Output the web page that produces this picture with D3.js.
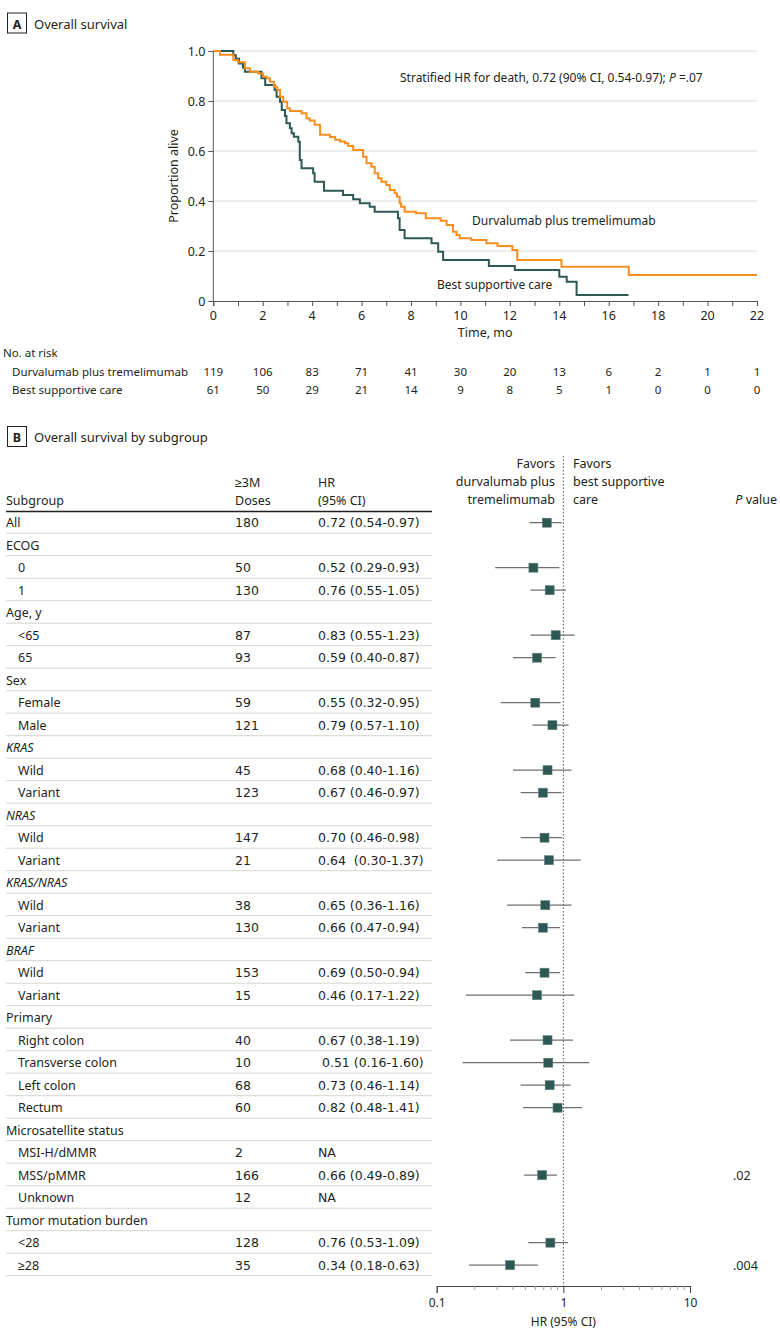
<!DOCTYPE html>
<html>
<head>
<meta charset="utf-8">
<script src="https://cdn.jsdelivr.net/npm/d3@7"></script>
<style>
  body { margin: 0; background: #fff; }
  svg { display: block; font-family: "Noto Sans", sans-serif; fill: #231f20; }
  .num { font-family: "DejaVu Sans", sans-serif; }
</style>
</head>
<body>
<svg width="780" height="1340"></svg>
<script>
// ---- Panel A: Kaplan-Meier data ----
const durvaT = [0, 0.27, 0.81, 1.0, 1.28, 1.48, 1.82, 2.02, 2.16, 2.29, 2.45, 2.59, 2.7, 2.83, 2.99, 3.1,
  3.57, 3.77, 3.9, 4.1, 4.32, 4.72, 4.93, 5.13, 5.33, 5.46, 5.66, 6.06, 6.2, 6.4, 6.53, 6.67, 6.8, 7.0,
  7.14, 7.34, 7.43, 7.54, 7.6, 7.74, 8.2, 8.6, 9.2, 9.44, 9.7, 9.84, 9.97, 10.44, 11.05, 11.5, 12.1,
  12.3, 14.09, 16.81, 22];
const durvaS = [1.0, 0.985, 0.964, 0.955, 0.931, 0.917, 0.91, 0.897, 0.891, 0.877, 0.857, 0.844, 0.817,
  0.797, 0.771, 0.76, 0.751, 0.731, 0.722, 0.705, 0.665, 0.656, 0.645, 0.638, 0.631, 0.62, 0.604, 0.577,
  0.551, 0.537, 0.511, 0.491, 0.477, 0.464, 0.444, 0.431, 0.417, 0.391, 0.377, 0.357, 0.351, 0.331,
  0.321, 0.304, 0.277, 0.264, 0.251, 0.244, 0.231, 0.22, 0.204, 0.164, 0.137, 0.104, 0.104];

const bscT = [0, 0.81, 0.91, 1.04, 1.2, 1.28, 1.95, 2.1, 2.48, 2.56, 2.7, 2.77, 2.9, 2.96, 3.1, 3.17,
  3.26, 3.44, 3.5, 3.57, 4.04, 4.1, 4.48, 5.25, 5.66, 5.93, 6.33, 6.53, 7.47, 7.54, 7.74, 8.83, 9.1,
  9.3, 11.15, 12.2, 14.0, 14.3, 14.7, 16.8];
const bscS = [1.0, 0.983, 0.969, 0.95, 0.933, 0.917, 0.891, 0.864, 0.844, 0.817, 0.797, 0.764, 0.74,
  0.711, 0.691, 0.671, 0.657, 0.637, 0.564, 0.531, 0.511, 0.477, 0.441, 0.424, 0.407, 0.391, 0.377,
  0.357, 0.331, 0.284, 0.251, 0.231, 0.197, 0.164, 0.14, 0.124, 0.097, 0.077, 0.024, 0.024];

const riskTimes = [0, 2, 4, 6, 8, 10, 12, 14, 16, 18, 20, 22];
const riskDurva = [119, 106, 83, 71, 41, 30, 20, 13, 6, 2, 1, 1];
const riskBsc = [61, 50, 29, 21, 14, 9, 8, 5, 1, 0, 0, 0];
const yTicks = [0, 0.2, 0.4, 0.6, 0.8, 1.0];

// ---- Panel B: subgroup forest data ----
const rowLabels = ["All", "ECOG", "0", "1", "Age, y", "<65", "65", "Sex", "Female", "Male",
  "KRAS", "Wild", "Variant", "NRAS", "Wild", "Variant", "KRAS/NRAS", "Wild", "Variant",
  "BRAF", "Wild", "Variant", "Primary", "Right colon", "Transverse colon", "Left colon", "Rectum",
  "Microsatellite status", "MSI-H/dMMR", "MSS/pMMR", "Unknown", "Tumor mutation burden", "<28", "≥28"];
const rowKind = ["all", "head", "sub", "sub", "head", "sub", "sub", "head", "sub", "sub",
  "gene", "sub", "sub", "gene", "sub", "sub", "gene", "sub", "sub",
  "gene", "sub", "sub", "head", "sub", "sub", "sub", "sub",
  "head", "sub", "sub", "sub", "head", "sub", "sub"];
const doses = [180, null, 50, 130, null, 87, 93, null, 59, 121, null, 45, 123, null, 147, 21,
  null, 38, 130, null, 153, 15, null, 40, 10, 68, 60, null, 2, 166, 12, null, 128, 35];
const hrText = ["0.72 (0.54-0.97)", "", "0.52 (0.29-0.93)", "0.76 (0.55-1.05)", "", "0.83 (0.55-1.23)",
  "0.59 (0.40-0.87)", "", "0.55 (0.32-0.95)", "0.79 (0.57-1.10)", "", "0.68 (0.40-1.16)",
  "0.67 (0.46-0.97)", "", "0.70 (0.46-0.98)", "0.64  (0.30-1.37)", "", "0.65 (0.36-1.16)",
  "0.66 (0.47-0.94)", "", "0.69 (0.50-0.94)", "0.46 (0.17-1.22)", "", "0.67 (0.38-1.19)",
  " 0.51 (0.16-1.60)", "0.73 (0.46-1.14)", "0.82 (0.48-1.41)", "", "NA", "0.66 (0.49-0.89)", "NA",
  "", "0.76 (0.53-1.09)", "0.34 (0.18-0.63)"];
// plotted point estimates and CI limits as drawn
const hrPoint = [0.74, null, 0.58, 0.78, null, 0.87, 0.62, null, 0.60, 0.82, null, 0.75, 0.69, null,
  0.71, 0.77, null, 0.72, 0.69, null, 0.71, 0.62, null, 0.75, 0.76, 0.78, 0.90, null, null, 0.68,
  null, null, 0.79, 0.38];
const ciLo = [0.54, null, 0.29, 0.55, null, 0.55, 0.40, null, 0.32, 0.57, null, 0.40, 0.46, null,
  0.46, 0.30, null, 0.36, 0.47, null, 0.50, 0.17, null, 0.38, 0.16, 0.46, 0.48, null, null, 0.49,
  null, null, 0.53, 0.18];
const ciHi = [0.97, null, 0.93, 1.05, null, 1.23, 0.87, null, 0.95, 1.10, null, 1.16, 0.97, null,
  0.98, 1.37, null, 1.16, 0.94, null, 0.94, 1.22, null, 1.19, 1.60, 1.14, 1.41, null, null, 0.89,
  null, null, 1.09, 0.63];
const pVals = {29: ".02", 33: ".004"};
const hrTicks = [0.1, 1, 10];

const orange = "#f98e1d", teal = "#2d5854";
const svg = d3.select("svg");

// panel tag helper
function panelTag(y, letter, title) {
  svg.append("rect").attr("x", 7.5).attr("y", y - 15.5).attr("width", 19).attr("height", 20)
    .attr("fill", "none").attr("stroke", "#231f20").attr("stroke-width", 1);
  svg.append("text").attr("x", 17).attr("y", y).attr("text-anchor", "middle")
    .attr("font-size", 12.5).attr("font-weight", "bold").text(letter);
  svg.append("text").attr("x", 34).attr("y", y).attr("font-size", 13).text(title);
}

// ================= Panel A =================
panelTag(28.5, "A", "Overall survival");

const x = d3.scaleLinear().domain([0, 22]).range([213.3, 757]);
const y = d3.scaleLinear().domain([0, 1]).range([301, 51]);

// grid
svg.append("g").selectAll("line").data(yTicks.slice(1)).join("line")
  .attr("x1", x(0)).attr("x2", x(22)).attr("y1", d => y(d)).attr("y2", d => y(d))
  .attr("stroke", "#dcdcdc").attr("stroke-width", 1);

const gx = svg.append("g").attr("transform", `translate(0,${y(0)})`)
  .call(d3.axisBottom(x).tickValues(d3.range(0, 23)).tickSize(5).tickFormat(""));
gx.selectAll("line,path").attr("stroke", "#555");
gx.selectAll(".tick text").remove();
svg.append("g").selectAll("text").data(riskTimes).join("text")
  .attr("x", d => x(d)).attr("y", 320).attr("text-anchor", "middle").attr("font-size", 12.5)
  .text(d => d);

const gy = svg.append("g").attr("transform", `translate(${x(0)},0)`)
  .call(d3.axisLeft(y).tickValues(yTicks).tickSize(5).tickFormat(d => d === 0 ? "0" : d3.format(".1f")(d)));
gy.selectAll("line,path").attr("stroke", "#555");
gy.selectAll("text").attr("font-size", 12.5).attr("fill", "#231f20").attr("font-family", "Noto Sans, sans-serif");
gy.select(".domain").attr("d", `M0,${y(0)}V${y(1)}`);

svg.append("text").attr("transform", `translate(178,176) rotate(-90)`)
  .attr("text-anchor", "middle").attr("font-size", 12.5).text("Proportion alive");
svg.append("text").attr("x", x(11)).attr("y", 337).attr("text-anchor", "middle")
  .attr("font-size", 12.5).text("Time, mo");

const km = d3.line().x(d => x(d[0])).y(d => y(d[1])).curve(d3.curveStepAfter);
svg.append("path").datum(bscT.map((t, i) => [t, bscS[i]]))
  .attr("d", km).attr("fill", "none").attr("stroke", teal).attr("stroke-width", 2);
svg.append("path").datum(durvaT.map((t, i) => [t, durvaS[i]]))
  .attr("d", km).attr("fill", "none").attr("stroke", orange).attr("stroke-width", 2);

const hrNote = svg.append("text").attr("x", 400).attr("y", 82).attr("font-size", 12);
hrNote.append("tspan").text("Stratified HR for death, 0.72 (90% CI, 0.54-0.97); ");
hrNote.append("tspan").attr("font-style", "italic").text("P");
hrNote.append("tspan").text(" =.07");
svg.append("text").attr("x", 472).attr("y", 225).attr("font-size", 12).text("Durvalumab plus tremelimumab");
svg.append("text").attr("x", 437).attr("y", 289).attr("font-size", 12).text("Best supportive care");

// number at risk
svg.append("text").attr("x", 3).attr("y", 357).attr("font-size", 11.5).text("No. at risk");
svg.append("text").attr("x", 12).attr("y", 376).attr("font-size", 11.5).text("Durvalumab plus tremelimumab");
svg.append("text").attr("x", 12).attr("y", 394).attr("font-size", 11.5).text("Best supportive care");
svg.append("g").selectAll("text").data(riskDurva).join("text")
  .attr("x", (d, i) => x(riskTimes[i])).attr("y", 376).attr("text-anchor", "middle")
  .attr("font-size", 11.5).text(d => d);
svg.append("g").selectAll("text").data(riskBsc).join("text")
  .attr("x", (d, i) => x(riskTimes[i])).attr("y", 394).attr("text-anchor", "middle")
  .attr("font-size", 11.5).text(d => d);

// ================= Panel B =================
panelTag(442, "B", "Overall survival by subgroup");

const rowY = i => 522.7 + i * 22.5;
const hx = d3.scaleLog().domain([0.1, 10]).range([436.7, 690]);
const colDoses = 235, colHR = 318, tableRight = 432;

// headers
const hdr = svg.append("g").attr("font-size", 12.5);
hdr.append("text").attr("x", 6).attr("y", 505).text("Subgroup");
hdr.append("text").attr("x", colDoses).attr("y", 487).text("≥3M");
hdr.append("text").attr("x", colDoses).attr("y", 505).text("Doses");
hdr.append("text").attr("x", colHR).attr("y", 487).text("HR");
hdr.append("text").attr("x", colHR).attr("y", 505).text("(95% CI)");
["Favors", "durvalumab plus", "tremelimumab"].forEach((t, i) =>
  hdr.append("text").attr("x", 555).attr("y", 468 + i * 18).attr("text-anchor", "end").text(t));
["Favors", "best supportive", "care"].forEach((t, i) =>
  hdr.append("text").attr("x", 573).attr("y", 468 + i * 18).text(t));
const pv = hdr.append("text").attr("x", 777).attr("y", 504).attr("text-anchor", "end");
pv.append("tspan").attr("font-style", "italic").text("P");
pv.append("tspan").text(" value");

svg.append("line").attr("x1", 6).attr("x2", tableRight).attr("y1", 511.5).attr("y2", 511.5)
  .attr("stroke", "#231f20").attr("stroke-width", 1.5);

// row separators
svg.append("g").selectAll("line").data(rowLabels).join("line")
  .attr("x1", 6).attr("x2", tableRight)
  .attr("y1", (d, i) => rowY(i) + 10.5).attr("y2", (d, i) => rowY(i) + 10.5)
  .attr("stroke", "#d6d6ce").attr("stroke-width", 1);

// table text
const rows = svg.append("g").attr("font-size", 12.5);
rows.selectAll("text.lab").data(rowLabels).join("text").attr("class", "lab")
  .attr("x", (d, i) => rowKind[i] === "sub" ? 18 : 6)
  .attr("y", (d, i) => rowY(i) + 4.5)
  .attr("font-style", (d, i) => rowKind[i] === "gene" ? "italic" : null)
  .text(d => d);
rows.selectAll("text.dose").data(doses).join("text").attr("class", "dose num")
  .attr("x", colDoses).attr("y", (d, i) => rowY(i) + 4.5).attr("font-size", 12.5)
  .text(d => d === null ? "" : d);
rows.selectAll("text.hr").data(hrText).join("text").attr("class", "hr num")
  .attr("x", colHR).attr("y", (d, i) => rowY(i) + 4.5).attr("font-size", 12.5)
  .style("white-space", "pre").text(d => d);
rows.selectAll("text.p").data(Object.keys(pVals)).join("text").attr("class", "p")
  .attr("x", 733).attr("y", d => rowY(+d) + 4.5).text(d => pVals[d]);

// reference line at HR = 1
svg.append("line").attr("x1", hx(1)).attr("x2", hx(1)).attr("y1", 456).attr("y2", 1286)
  .attr("stroke", "#555").attr("stroke-width", 1).attr("stroke-dasharray", "1.5,2");

// CIs and point estimates
const idx = d3.range(rowLabels.length).filter(i => hrPoint[i] !== null);
svg.append("g").selectAll("line").data(idx).join("line")
  .attr("x1", i => hx(ciLo[i])).attr("x2", i => hx(ciHi[i]))
  .attr("y1", i => rowY(i)).attr("y2", i => rowY(i))
  .attr("stroke", "#6f6f6f").attr("stroke-width", 1.3);
svg.append("g").selectAll("rect").data(idx).join("rect")
  .attr("x", i => hx(hrPoint[i]) - 4.5).attr("y", i => rowY(i) - 4.5)
  .attr("width", 9).attr("height", 9).attr("fill", teal)
  .attr("stroke", "#5f807b").attr("stroke-width", 0.6);

// log axis
const minor = [];
[0.1, 1].forEach(b => d3.range(2, 10).forEach(k => minor.push(b * k)));
const ga = svg.append("g").attr("transform", "translate(0,1286)")
  .call(d3.axisBottom(hx).tickValues(hrTicks).tickSize(7).tickFormat(d => d));
ga.selectAll("line,path").attr("stroke", "#444");
ga.selectAll("text").attr("font-size", 12).attr("fill", "#231f20")
  .attr("font-family", "Noto Sans, sans-serif").attr("dy", "0.9em");
svg.append("g").selectAll("line").data(minor).join("line")
  .attr("x1", d => hx(d)).attr("x2", d => hx(d)).attr("y1", 1286).attr("y2", 1290)
  .attr("stroke", "#999");
svg.append("text").attr("x", hx(1)).attr("y", 1326).attr("text-anchor", "middle")
  .attr("font-size", 12).text("HR (95% CI)");
</script>
</body>
</html>
